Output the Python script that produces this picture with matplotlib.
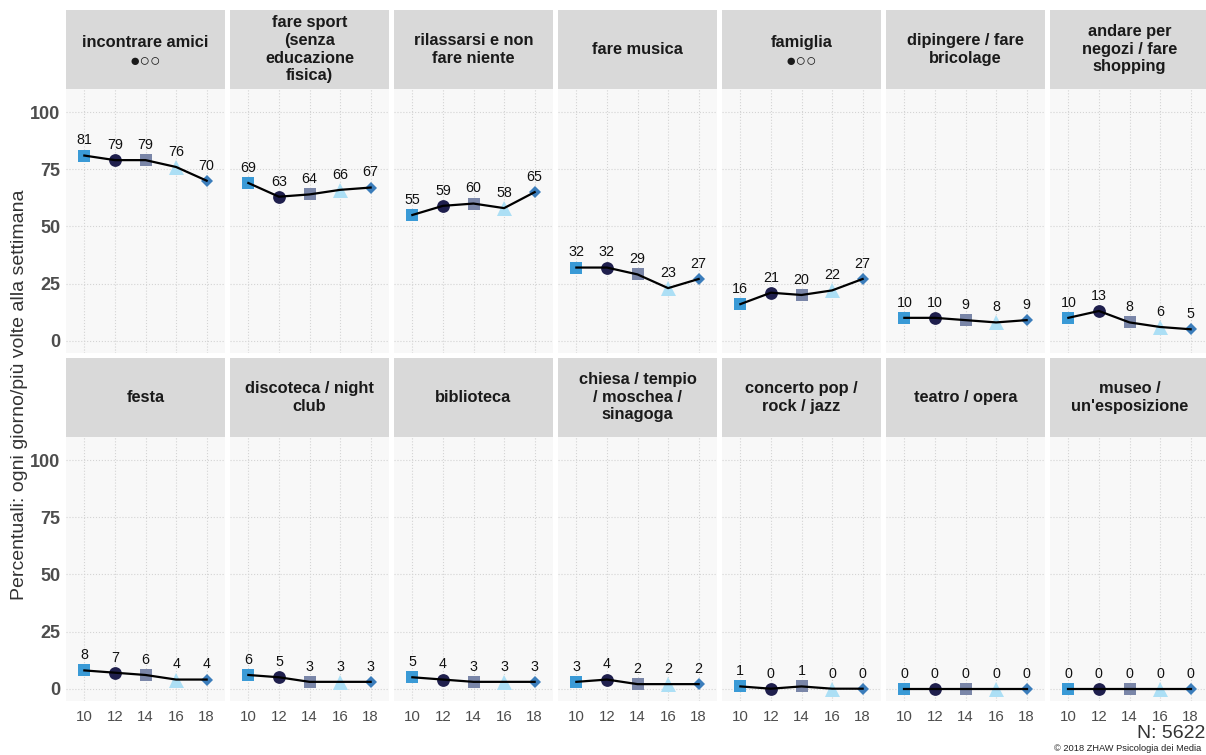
import matplotlib
matplotlib.use("Agg")
import matplotlib.pyplot as plt

plt.rcParams['font.family'] = ['Liberation Sans', 'DejaVu Sans']

ages = [10, 12, 14, 16, 18]
age_labels = ["10", "12", "14", "16", "18"]

titles_row1 = ["incontrare amici", "fare sport\n(senza\neducazione\nfisica)",
               "rilassarsi e non\nfare niente", "fare musica", "famiglia",
               "dipingere / fare\nbricolage", "andare per\nnegozi / fare\nshopping"]
titles_row2 = ["festa", "discoteca / night\nclub", "biblioteca",
               "chiesa / tempio\n/ moschea /\nsinagoga", "concerto pop /\nrock / jazz",
               "teatro / opera", "museo /\nun'esposizione"]
dots_row1 = [True, False, False, False, True, False, False]
dots_row2 = [False] * 7

incontrare_amici = [81, 79, 79, 76, 70]
fare_sport = [69, 63, 64, 66, 67]
rilassarsi = [55, 59, 60, 58, 65]
fare_musica = [32, 32, 29, 23, 27]
famiglia = [16, 21, 20, 22, 27]
dipingere = [10, 10, 9, 8, 9]
negozi = [10, 13, 8, 6, 5]
festa = [8, 7, 6, 4, 4]
discoteca = [6, 5, 3, 3, 3]
biblioteca = [5, 4, 3, 3, 3]
chiesa = [3, 4, 2, 2, 2]
concerto = [1, 0, 1, 0, 0]
teatro = [0, 0, 0, 0, 0]
museo = [0, 0, 0, 0, 0]

values_row1 = [incontrare_amici, fare_sport, rilassarsi, fare_musica, famiglia, dipingere, negozi]
values_row2 = [festa, discoteca, biblioteca, chiesa, concerto, teatro, museo]

y_ticks = [0, 25, 50, 75, 100]

marker_styles = [('s', 8.3, '#3a9ad6'), ('o', 9.2, '#1f1f4d'), ('s', 8.8, '#7a86a8'),
                 ('^', 10.8, '#acdff5'), ('D', 6.2, '#3b7dbb')]

W, H = 1206, 755
fig = plt.figure(figsize=(W / 100, H / 100), dpi=100)


def px_axes(left, top, width, height):
    return fig.add_axes([left / W, 1 - (top + height) / H, width / W, height / H])


col_left = [66 + 164 * i for i in range(7)]
pw = 159
rows = [(10, 88.7, 352.7), (357.7, 436.7, 700.7)]

for r, (titles, dots, values) in enumerate([(titles_row1, dots_row1, values_row1),
                                             (titles_row2, dots_row2, values_row2)]):
    s_top, p_top, p_bot = rows[r]
    for c in range(7):
        left = col_left[c]
        # strip
        sax = px_axes(left, s_top, pw, p_top - s_top)
        sax.set_facecolor('#d9d9d9')
        sax.set_xticks([]); sax.set_yticks([])
        for sp in sax.spines.values():
            sp.set_visible(False)
        if dots[c]:
            sax.text(0.5, 0.585, titles[c], ha='center', va='center', fontsize=11.8,
                     fontweight='bold', color='#1a1a1a', transform=sax.transAxes)
            sax.text(0.5, 0.35, "●○○", ha='center', va='center', fontsize=12.5,
                     color='#1a1a1a', transform=sax.transAxes)
        else:
            sax.text(0.5, 0.5, titles[c], ha='center', va='center', fontsize=11.8,
                     fontweight='bold', color='#1a1a1a', transform=sax.transAxes,
                     linespacing=1.22)
        # panel
        ax = px_axes(left, p_top, pw, p_bot - p_top)
        ax.set_facecolor('#f8f8f8')
        for sp in ax.spines.values():
            sp.set_visible(False)
        ax.set_xlim(8.8, 19.2)
        ax.set_ylim(-5.25, 110.25)
        ax.set_xticks(ages)
        ax.set_yticks(y_ticks)
        ax.grid(True, color='#d4d4d4', linestyle=':', linewidth=0.8)
        ax.set_axisbelow(True)
        ax.tick_params(length=0)
        if c == 0:
            ax.set_yticklabels([str(t) for t in y_ticks], fontsize=13,
                               fontweight='bold', color='#4d4d4d')
            ax.tick_params(axis='y', pad=4)
        else:
            ax.set_yticklabels([])
        if r == 1:
            ax.set_xticklabels(age_labels, fontsize=10.8, color='#4d4d4d')
            ax.tick_params(axis='x', pad=7)
        else:
            ax.set_xticklabels([])
        vals = values[c]
        for i, (a, v) in enumerate(zip(ages, vals)):
            m, ms, col = marker_styles[i]
            ax.plot([a], [v], marker=m, markersize=ms, color=col,
                    markeredgewidth=0, linestyle='none', zorder=2)
            ax.text(a, v + 6.6, str(v), ha='center', va='center', fontsize=10.3,
                    color='#111111', zorder=4)
        ax.plot(ages, vals, color='black', linewidth=1.6, zorder=3)

fig.text(20 / W, 1 - 394.5 / H, "Percentuali: ogni giorno/più volte alla settimana",
         rotation=90, ha='center', va='center', fontsize=14, color='#333333')
fig.text(1137 / W, 1 - 738 / H, "N: 5622", ha='left', va='baseline',
         fontsize=14, color='#333333')
fig.text(1054 / W, 1 - 751 / H, "© 2018 ZHAW Psicologia dei Media", ha='left',
         va='baseline', fontsize=6.7, color='#222222')

fig.savefig("out.png", dpi=100)
